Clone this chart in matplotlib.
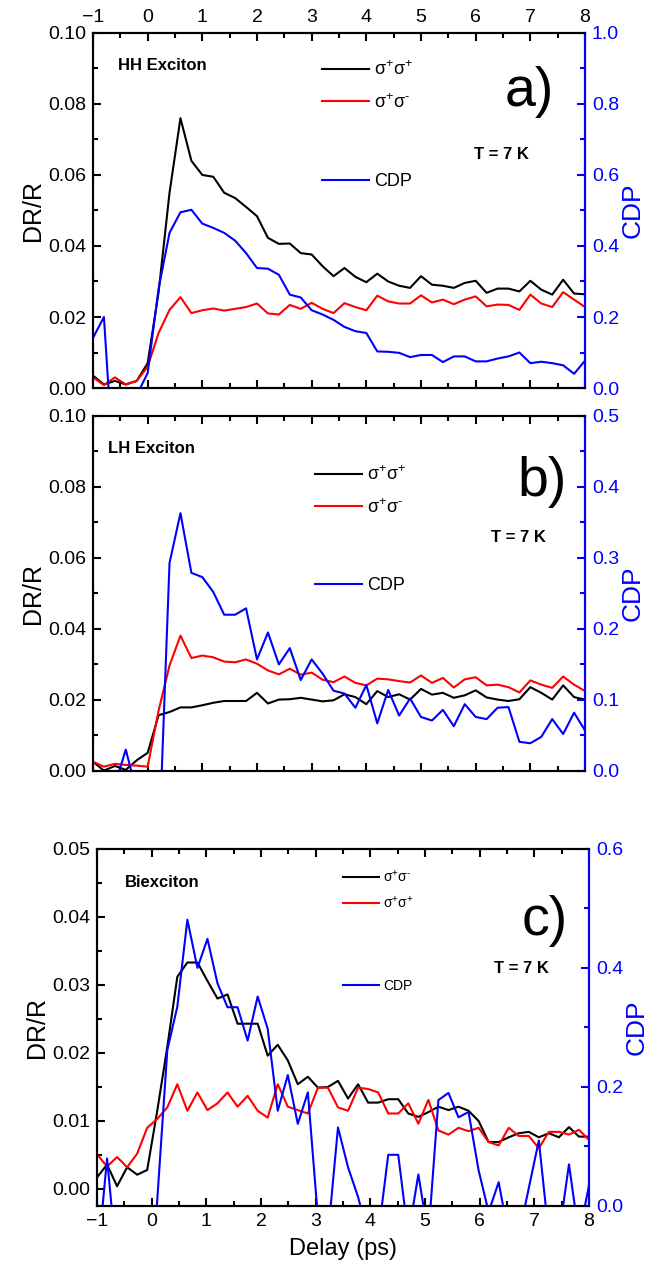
import numpy as np
import matplotlib
matplotlib.use('Agg')
import matplotlib.pyplot as plt
from matplotlib.ticker import MultipleLocator, FormatStrFormatter
from matplotlib.lines import Line2D

plt.rcParams['font.family'] = ['Liberation Sans', 'DejaVu Sans']
plt.rcParams['mathtext.fontset'] = 'custom'
plt.rcParams['mathtext.rm'] = 'Liberation Sans'

# --- data ---
delay_ab = [-1.0, -0.8, -0.6, -0.4, -0.2, 0.0, 0.2, 0.4, 0.6, 0.8,
            1.0, 1.2, 1.4, 1.6, 1.8, 2.0, 2.2, 2.4, 2.6, 2.8,
            3.0, 3.2, 3.4, 3.6, 3.8, 4.0, 4.2, 4.4, 4.6, 4.8,
            5.0, 5.2, 5.4, 5.6, 5.8, 6.0, 6.2, 6.4, 6.6, 6.8,
            7.0, 7.2, 7.4, 7.6, 7.8, 8.0]

hh_pp = [0.0035, 0.0010, 0.0020, 0.0010, 0.0020, 0.0070, 0.0270, 0.0550, 0.0760, 0.0640,
         0.0600, 0.0595, 0.0550, 0.0535, 0.0510, 0.0484, 0.0423, 0.0406, 0.0407, 0.0380,
         0.0376, 0.0343, 0.0315, 0.0338, 0.0313, 0.0298, 0.0322, 0.0300, 0.0288, 0.0282,
         0.0315, 0.0291, 0.0288, 0.0282, 0.0296, 0.0302, 0.0268, 0.0280, 0.0280, 0.0272,
         0.0302, 0.0277, 0.0263, 0.0305, 0.0266, 0.0264]
hh_pm = [0.0030, 0.0008, 0.0030, 0.0010, 0.0020, 0.0060, 0.0155, 0.0220, 0.0256, 0.0211,
         0.0219, 0.0224, 0.0218, 0.0223, 0.0228, 0.0238, 0.0210, 0.0207, 0.0234, 0.0223,
         0.0240, 0.0223, 0.0211, 0.0239, 0.0228, 0.0219, 0.0260, 0.0244, 0.0238, 0.0238,
         0.0261, 0.0241, 0.0249, 0.0236, 0.0249, 0.0258, 0.0230, 0.0235, 0.0234, 0.0220,
         0.0263, 0.0238, 0.0228, 0.0270, 0.0249, 0.0228]
hh_cdp = [0.141, 0.200, -0.280, 0.000, -0.020, 0.042, 0.280, 0.437, 0.495, 0.502,
          0.463, 0.451, 0.437, 0.415, 0.380, 0.338, 0.336, 0.319, 0.263, 0.255,
          0.219, 0.207, 0.192, 0.172, 0.160, 0.155, 0.103, 0.102, 0.099, 0.087,
          0.093, 0.093, 0.073, 0.089, 0.089, 0.075, 0.075, 0.083, 0.089, 0.100,
          0.070, 0.074, 0.070, 0.064, 0.040, 0.077]

lh_pp = [0.0026, 0.0001, 0.0014, 0.0003, 0.0030, 0.0051, 0.0157, 0.0166, 0.0179, 0.0179,
         0.0185, 0.0192, 0.0197, 0.0197, 0.0197, 0.0220, 0.0190, 0.0201, 0.0202, 0.0206,
         0.0201, 0.0196, 0.0199, 0.0216, 0.0208, 0.0188, 0.0225, 0.0208, 0.0216, 0.0201,
         0.0231, 0.0215, 0.0220, 0.0206, 0.0213, 0.0227, 0.0207, 0.0201, 0.0197, 0.0202,
         0.0236, 0.0220, 0.0201, 0.0241, 0.0208, 0.0201]
lh_pm = [0.0026, 0.0012, 0.0020, 0.0017, 0.0015, 0.0012, 0.0170, 0.0297, 0.0381, 0.0318,
         0.0325, 0.0320, 0.0308, 0.0306, 0.0314, 0.0302, 0.0283, 0.0272, 0.0288, 0.0271,
         0.0277, 0.0257, 0.0250, 0.0266, 0.0248, 0.0241, 0.0260, 0.0258, 0.0253, 0.0249,
         0.0269, 0.0248, 0.0262, 0.0235, 0.0258, 0.0264, 0.0241, 0.0243, 0.0236, 0.0221,
         0.0255, 0.0243, 0.0234, 0.0266, 0.0243, 0.0225]
lh_cdp = [-0.050, -0.050, -0.020, 0.030, -0.030, -0.050, -0.120, 0.293, 0.363, 0.279,
          0.273, 0.252, 0.220, 0.220, 0.229, 0.157, 0.195, 0.150, 0.173, 0.128,
          0.157, 0.137, 0.113, 0.109, 0.089, 0.121, 0.067, 0.114, 0.078, 0.102,
          0.076, 0.071, 0.086, 0.063, 0.094, 0.076, 0.073, 0.089, 0.090, 0.041,
          0.039, 0.048, 0.073, 0.052, 0.082, 0.057]

delay_c = [-1.000, -0.816, -0.633, -0.449, -0.265, -0.082, 0.102, 0.286, 0.469, 0.653,
           0.837, 1.020, 1.204, 1.388, 1.571, 1.755, 1.939, 2.122, 2.306, 2.490,
           2.673, 2.857, 3.041, 3.224, 3.408, 3.592, 3.776, 3.959, 4.143, 4.327,
           4.510, 4.694, 4.878, 5.061, 5.245, 5.429, 5.612, 5.796, 5.980, 6.163,
           6.347, 6.531, 6.714, 6.898, 7.082, 7.265, 7.449, 7.633, 7.816, 8.000]
bx_pm = [0.0017, 0.0036, 0.0004, 0.0032, 0.0021, 0.0028, 0.0115, 0.0209, 0.0312, 0.0333,
         0.0333, 0.0306, 0.0280, 0.0286, 0.0243, 0.0243, 0.0243, 0.0196, 0.0212, 0.0189,
         0.0154, 0.0165, 0.0149, 0.0150, 0.0159, 0.0133, 0.0154, 0.0127, 0.0127, 0.0132,
         0.0132, 0.0111, 0.0106, 0.0113, 0.0121, 0.0116, 0.0121, 0.0115, 0.0100, 0.0069,
         0.0069, 0.0076, 0.0082, 0.0084, 0.0076, 0.0082, 0.0076, 0.0091, 0.0077, 0.0077]
bx_pp = [0.0051, 0.0033, 0.0047, 0.0032, 0.0052, 0.0090, 0.0103, 0.0120, 0.0154, 0.0115,
         0.0142, 0.0116, 0.0126, 0.0142, 0.0121, 0.0137, 0.0115, 0.0105, 0.0154, 0.0121,
         0.0116, 0.0111, 0.0149, 0.0149, 0.0120, 0.0115, 0.0149, 0.0147, 0.0142, 0.0111,
         0.0111, 0.0126, 0.0096, 0.0131, 0.0086, 0.0080, 0.0090, 0.0085, 0.0090, 0.0069,
         0.0064, 0.0090, 0.0078, 0.0078, 0.0060, 0.0084, 0.0084, 0.0080, 0.0087, 0.0072]
bx_cdp = [-0.100, 0.080, -0.100, -0.100, -0.100, -0.200, 0.010, 0.262, 0.335, 0.481,
          0.400, 0.449, 0.374, 0.334, 0.334, 0.278, 0.352, 0.298, 0.160, 0.220,
          0.138, 0.191, -0.020, -0.050, 0.132, 0.065, 0.015, -0.050, -0.050, 0.086,
          0.086, -0.050, 0.053, -0.050, 0.178, 0.190, 0.149, 0.158, 0.060, -0.010,
          0.040, -0.050, -0.050, 0.030, 0.110, -0.050, -0.050, 0.070, -0.050, 0.035]

BLUE = '#0000ff'
RED = '#ff0000'

fig = plt.figure(figsize=(6.48, 12.68), dpi=100)


def panel(rect, x, y_black, y_red, y_cdp, ylim, ystep, cdp_lim, cdp_step,
          lab_black, lab_red, name, letter, pos, leg_fs, leg_x, leg_y, cdp_y,
          top_labels=False, bottom_labels=False):
    ax = fig.add_axes(rect)
    ax.plot(x, y_black, color='black', lw=1.5)
    ax.plot(x, y_red, color=RED, lw=1.5)
    ax.set_xlim(-1, 8)
    ax.set_ylim(*ylim)
    ax.xaxis.set_major_locator(MultipleLocator(1))
    ax.xaxis.set_minor_locator(MultipleLocator(0.5))
    ax.yaxis.set_major_locator(MultipleLocator(ystep))
    ax.yaxis.set_minor_locator(MultipleLocator(ystep / 2))
    ax.yaxis.set_major_formatter(FormatStrFormatter('%.2f'))
    ax.tick_params(which='both', direction='in', top=True, width=1.5,
                   labelsize=14, labeltop=top_labels, labelbottom=bottom_labels, pad=5)
    ax.tick_params(which='major', length=6)
    ax.tick_params(which='minor', length=3.5)
    for s in ax.spines.values():
        s.set_linewidth(1.5)
    ax.set_ylabel('DR/R', fontsize=18, labelpad=2)

    ax2 = ax.twinx()
    ax2.plot(x, y_cdp, color=BLUE, lw=1.5)
    ax2.set_ylim(*cdp_lim)
    ax2.yaxis.set_major_locator(MultipleLocator(cdp_step))
    ax2.yaxis.set_minor_locator(MultipleLocator(cdp_step / 2))
    ax2.yaxis.set_major_formatter(FormatStrFormatter('%.1f'))
    ax2.tick_params(which='both', direction='in', width=1.5, colors=BLUE,
                    labelsize=14, pad=5)
    ax2.tick_params(which='major', length=6)
    ax2.tick_params(which='minor', length=3.5)
    for s in ax2.spines.values():
        s.set_linewidth(1.5)
    ax2.spines['right'].set_color(BLUE)
    ax2.set_ylabel('CDP', fontsize=19, color=BLUE, labelpad=1)

    h = [Line2D([], [], color='black', lw=1.5), Line2D([], [], color=RED, lw=1.5)]
    ax.legend(h, [lab_black, lab_red], loc='upper left', bbox_to_anchor=(leg_x, leg_y),
              frameon=False, fontsize=leg_fs, handlelength=2.6, handletextpad=0.3,
              borderpad=0, borderaxespad=0, labelspacing=0.75)
    ax2.legend([Line2D([], [], color=BLUE, lw=1.5)], ['CDP'], loc='center left',
               bbox_to_anchor=(leg_x, cdp_y), frameon=False, fontsize=leg_fs,
               handlelength=2.6, handletextpad=0.3, borderpad=0, borderaxespad=0)

    ax.text(pos[0], pos[1], name, transform=ax.transAxes, fontsize=12,
            fontweight='bold', va='center', ha='left')
    ax.text(pos[2], pos[3], letter, transform=ax.transAxes, fontsize=40,
            va='center', ha='center')
    ax.text(pos[4], pos[5], 'T = 7 K', transform=ax.transAxes, fontsize=12,
            fontweight='bold', va='center', ha='center')
    return ax, ax2


pp = r'σ$^{+}$σ$^{+}$'
pm = r'σ$^{+}$σ$^{\text{-}}$'

panel([0.1435, 0.6940, 0.7593, 0.2800], delay_ab, hh_pp, hh_pm, hh_cdp,
      (0, 0.10), 0.02, (0, 1.0), 0.2, pp, pm, 'HH Exciton', 'a)',
      (0.050, 0.908, 0.886, 0.835, 0.83, 0.659), 13, 0.465, 0.922, 0.581,
      top_labels=True)

panel([0.1435, 0.3920, 0.7593, 0.2800], delay_ab, lh_pp, lh_pm, lh_cdp,
      (0, 0.10), 0.02, (0, 0.5), 0.1, pp, pm, 'LH Exciton', 'b)',
      (0.031, 0.909, 0.912, 0.815, 0.865, 0.658), 13, 0.451, 0.860, 0.522)

axc, axc2 = panel([0.1497, 0.0489, 0.7593, 0.2816], delay_c, bx_pm, bx_pp, bx_cdp,
                  (-0.0025, 0.05), 0.01, (0, 0.6), 0.2, pm, pp, 'Biexciton', 'c)',
                  (0.056, 0.906, 0.911, 0.798, 0.862, 0.666), 10, 0.50, 0.945, 0.617,
                  bottom_labels=True)
axc.set_xlabel('Delay (ps)', fontsize=17, labelpad=6)

fig.savefig('out.png', dpi=100)
